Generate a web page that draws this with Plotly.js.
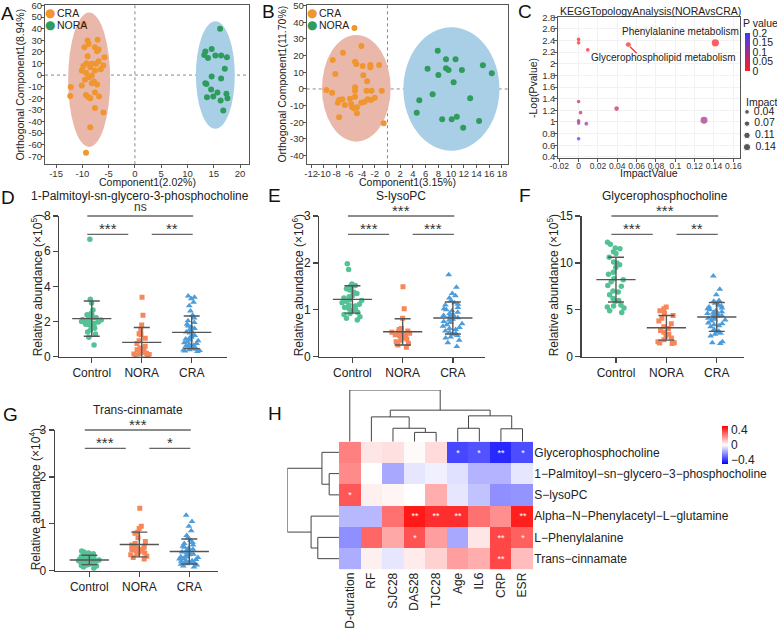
<!DOCTYPE html>
<html><head><meta charset="utf-8">
<script src="https://cdn.plot.ly/plotly-3.0.1.min.js"></script>
<style>html,body{margin:0;padding:0;background:#fff}</style>
</head><body><div id="chart" style="width:777px;height:628px"></div>
<script>
// ================= DATA =================
// Panel A: OPLS-DA scores (Component1 2.02%, Orthogonal 8.94%)
const aCRA_x = [-9.7,-9.0,-8.8,-7.1,-9.6,-7.6,-7.2,-6.9,-9.0,-5.8,-6.9,-9.2,-8.2,-9.8,-7.4,-6.0,-8.5,-10.1,-7.6,-9.3,-8.8,-9.5,-8.2,-10.1,-7.2,-12.2,-12.3,-9.3,-8.8,-8.5,-7.6,-6.8,-6.0,-7.6,-8.5,-9.3,-8.2,-6.5,-7.8];
const aCRA_y = [43.6,29.8,26.9,30.4,24.0,24.0,20.6,22.0,16.3,15.4,12.0,10.2,9.7,7.9,9.7,8.2,6.8,3.9,3.9,2.0,-1.8,-4.1,-7.0,-9.0,-8.2,-10.2,-18.0,-17.1,-19.1,-20.0,-15.1,-18.5,-32.3,-28.3,-45.0,-67.1,-0.4,5.0,-5.5];
const aNORA_x = [16.2,14.6,13.4,13.2,13.9,15.3,16.4,17.5,17.1,14.6,16.4,13.4,13.6,14.5,15.7,17.4,13.7,14.9,16.3,17.6,16.8];
const aNORA_y = [39.9,22.6,20.3,17.4,14.8,16.9,16.9,15.4,5.4,-1.3,-3.0,-7.0,-7.6,-12.5,-15.1,-16.2,-19.1,-18.5,-22.0,-20.0,-30.6];
const aEllCRA = [-8.7,-4,4,58];   // cx, cy, rx, ry
const aEllNORA = [15.3,0,3.7,46.4];
const aXTicks = [-15,-10,-5,0,5,10,15,20];
const aYTicks = [-70,-60,-50,-40,-30,-20,-10,0,10,20,30,40,50,60];
// Panel B: scores (Component1 3.15%, Orthogonal 11.70%)
const bCRA_x = [-5.2,-4.1,-7.0,-8.6,-5.1,-4.9,-3.9,-2.7,-2.7,-1.3,-8.2,-3.8,-3.2,-9.6,-8.7,-5.1,-5.1,-3.3,-2.5,-0.9,-7.6,-7.1,-7.8,-5.9,-5.1,-6.7,-5.7,-5.6,-5.3,-4.8,-4.1,-3.6,-3.1,-2.6,-2.0,-4.8,-7.6,-0.6];
const bCRA_y = [36.6,25.8,21.8,17.4,16.4,15.0,13.8,14.4,13.0,14.4,9.0,8.2,4.6,-0.6,-2.2,1.0,-1.0,-1.0,-1.0,-1.0,-6.6,-6.2,-8.2,-5.8,-4.6,-9.6,-9.0,-10.6,-11.6,-11.0,-8.2,-7.6,-6.2,-6.6,-5.2,-14.6,-17.0,-20.6];
const bNORA_x = [7.9,10.7,9.2,9.2,9.6,6.3,11.7,15.0,16.4,8.0,10.4,7.1,13.0,5.0,4.6,8.6,10.1,10.9,11.9,14.4];
const bNORA_y = [23.0,17.8,17.8,12.4,11.4,12.2,11.4,14.2,9.4,8.4,4.0,-3.2,-5.6,-6.8,-14.2,-18.2,-18.2,-16.6,-23.2,-19.2];
const bEllCRA = [-4.9,0.4,5.4,32];
const bEllNORA = [10.05,0,7.55,37];
const bXTicks = [-12,-10,-8,-6,-4,-2,0,2,4,6,8,10,12,14,16,18];
const bYTicks = [-40,-30,-20,-10,0,10,20,30,40,50];
// Panel C: KEGG topology
const cImpact = [0,0,0.0095,0.0514,0.1414,0,0.002,0.0393,0,0,0.008,0.1297,0];
const cLogP   = [2.42,2.36,2.24,2.33,2.36,1.35,1.16,1.23,1.02,0.98,0.97,1.03,0.71];
const cLegendImpact = [0.04,0.07,0.11,0.14];
const cPTicks = [0,0.05,0.1,0.15,0.2];
const cXTicks = [-0.02,0,0.02,0.04,0.06,0.08,0.1,0.12,0.14,0.16];
const cYTicks = [0.4,0.6,0.8,1,1.2,1.4,1.6,1.8,2,2.2,2.4,2.6,2.8];
// Panels D-G: relative abundance
const groups = ['Control','NORA','CRA'];
const dControl = [6.68,3.26,3.05,2.65,2.45,2.42,2.38,2.3,2.25,2.22,2.2,2.15,2.12,2.1,2.08,2.05,2.0,1.98,1.95,1.9,1.85,1.82,1.78,1.7,1.62,1.52,1.4,1.29,1.1,0.66];
const dNORA = [3.38,2.35,1.8,1.52,1.3,1.25,1.05,0.9,0.75,0.6,0.5,0.45,0.4,0.35,0.3,0.25,0.2,0.18,0.15,0.12,0.1,0.08];
const dCRA = [3.45,3.38,3.3,3.1,2.9,2.6,2.35,2.2,2.05,1.95,1.85,1.75,1.7,1.6,1.55,1.45,1.4,1.35,1.25,1.2,1.1,1.05,1.0,0.95,0.9,0.85,0.8,0.75,0.7,0.65,0.6,0.55,0.5,0.45,0.42,0.4,0.38,0.35,0.33,0.3];
const dSig = ['***','**','ns'];
const eControl = [1.98,1.86,1.55,1.52,1.5,1.5,1.45,1.42,1.38,1.35,1.3,1.28,1.25,1.22,1.2,1.18,1.15,1.12,1.1,1.08,1.05,1.02,1.0,0.98,0.95,0.92,0.9,0.85,0.82,0.78];
const eNORA = [1.49,1.02,0.82,0.6,0.58,0.56,0.55,0.53,0.52,0.5,0.5,0.48,0.47,0.45,0.43,0.4,0.38,0.35,0.32,0.28,0.25,0.2];
const eCRA = [1.75,1.48,1.35,1.3,1.25,1.2,1.15,1.12,1.1,1.05,1.02,1.0,0.98,0.95,0.92,0.9,0.88,0.86,0.85,0.83,0.8,0.78,0.75,0.73,0.7,0.68,0.65,0.62,0.6,0.58,0.55,0.52,0.5,0.48,0.45,0.42,0.4,0.35,0.3,0.22];
const eSig = ['***','***','***'];
const fControl = [12.2,12.0,11.6,11.5,11.2,11.0,10.6,10.1,10.0,9.8,9.5,9.0,8.8,8.3,8.2,8.0,7.6,7.5,7.0,6.9,6.6,6.2,6.0,5.9,5.5,5.4,5.3,5.2,4.9,4.7];
const fNORA = [5.3,5.1,4.9,4.6,4.4,4.1,3.8,3.5,3.2,3.0,2.8,2.6,2.4,2.2,2.0,1.8,1.6,1.5,1.45,1.4];
const fCRA = [8.6,7.2,6.6,6.0,5.9,5.7,5.5,5.4,5.3,5.2,5.1,5.0,4.9,4.8,4.7,4.6,4.5,4.4,4.3,4.2,4.1,4.0,3.9,3.8,3.6,3.5,3.3,3.2,4.45,4.65,2.6,2.5,2.4,2.2,2.9,2.7,3.4,1.6,1.5,1.4];
const fSig = ['***','**','***'];
const gControl = [0.42,0.4,0.38,0.36,0.35,0.33,0.31,0.3,0.29,0.28,0.27,0.26,0.25,0.24,0.23,0.22,0.21,0.2,0.19,0.18,0.17,0.16,0.15,0.14,0.13,0.12,0.11,0.1,0.08,0.05];
const gNORA = [1.33,0.95,0.9,0.82,0.8,0.7,0.62,0.58,0.55,0.5,0.48,0.46,0.45,0.43,0.42,0.4,0.38,0.36,0.34,0.31,0.28,0.25];
const gCRA = [1.18,1.05,0.95,0.85,0.75,0.7,0.65,0.6,0.58,0.55,0.52,0.5,0.48,0.46,0.44,0.42,0.4,0.38,0.36,0.35,0.34,0.32,0.3,0.29,0.28,0.26,0.25,0.24,0.22,0.21,0.2,0.19,0.18,0.17,0.16,0.15,0.14,0.12,0.1,0.08];
const gSig = ['***','*','***'];
// Panel H: correlation heatmap
const hCols = ['D-duration','RF','SJC28','DAS28','TJC28','Age','IL6','CRP','ESR'];
const hRows = ['Glycerophosphocholine','1\u2212Palmitoyl\u2212sn\u2212glycero\u22123\u2212phosphocholine','S\u2212lysoPC','Alpha\u2212N\u2212Phenylacetyl\u2212L\u2212glutamine','L\u2212Phenylalanine','Trans\u2212cinnamate'];
const hZ = [
  [0.25,0.05,0.06,0.01,0.07,-0.36,-0.34,-0.42,-0.35],
  [0.23,0.0,-0.17,-0.05,-0.03,-0.06,-0.15,-0.15,-0.05],
  [0.33,0.03,0.02,0.0,0.16,-0.05,-0.12,-0.22,-0.21],
  [-0.14,-0.14,0.28,0.45,0.41,0.41,0.28,0.22,0.44],
  [-0.22,0.30,0.17,0.34,0.19,-0.17,0.05,0.36,0.31],
  [-0.16,0.03,-0.05,0.04,0.09,0.19,0.16,0.36,0.13]];
const hStars = [
  ['','','','','','*','*','**','*'],
  ['','','','','','','','',''],
  ['*','','','','','','','',''],
  ['','','','**','**','**','','','**'],
  ['','','','*','','','','**','*'],
  ['','','','','','','','**','']];
const hColLinks = [[3,4,0.18],[2,9,0.26],[5,6,0.26],[7,8,0.25],[1,10,0.48],[11,12,0.50],[13,14,0.61],[0,15,1.0]];
const hRowLinks = [[1,2,0.19],[0,6,0.33],[4,5,0.41],[3,8,0.54],[7,9,1.0]];

// ================= HELPERS =================
const W=777,H=628;
const px=x=>x/W, py=y=>1-y/H;
const xd=(a,b)=>[a/W,b/W], yd=(t,b)=>[1-b/H,1-t/H];
const FONT='Liberation Sans, Arial, sans-serif';
const mean=a=>a.reduce((s,v)=>s+v,0)/a.length;
const sd=a=>{const m=mean(a);return Math.sqrt(a.reduce((s,v)=>s+(v-m)*(v-m),0)/(a.length-1));};
const lbl=v=>String(+v.toFixed(3));
const annotations=[], shapes=[], traces=[];
function ann(text,x,y,o){annotations.push(Object.assign({text:text,x:px(x),y:py(y),xref:'paper',yref:'paper',showarrow:false,xanchor:'center',yanchor:'middle',font:{size:11,color:'#222',family:FONT}},o||{}));}
function seg(x0,y0,x1,y1,color,w){shapes.push({type:'line',xref:'paper',yref:'paper',x0:px(x0),y0:py(y0),x1:px(x1),y1:py(y1),line:{color:color||'#666',width:w||1.2}});}
const f=(s,c)=>({size:s,color:c||'#222',family:FONT});

const layout={width:W,height:H,margin:{l:0,r:0,t:0,b:0},paper_bgcolor:'#fff',plot_bgcolor:'rgba(0,0,0,0)',
  font:{family:FONT,color:'#222'},showlegend:false,boxmode:'overlay'};

const frameAx={showline:true,mirror:true,linecolor:'#555',linewidth:1,ticks:'outside',ticklen:3,tickcolor:'#555',
  tickfont:{size:9.5,color:'#333'},zeroline:false,showgrid:false,tickangle:0,ticklabelstandoff:-3};
const tk=v=>({tickvals:v,ticktext:v.map(lbl)});

// ---------- Panel A & B ----------
const orange='#F0962F', green='#2E9C5C', pink='#E9B8AB', lblue='#A8CFE5';
function scorePanel(xa,ya,xdom,xr,xt_,yr,yt_,xt,yt,ytx,crx,cry,nx,ny,eC,eN){
  layout['xaxis'+xa]=Object.assign({},frameAx,tk(xt_),{domain:xd(...xdom),range:xr,anchor:'y'+ya});
  layout['yaxis'+ya]=Object.assign({},frameAx,tk(yt_),{domain:yd(5,164.3),range:yr,anchor:'x'+xa});
  ann(xt,(xdom[0]+xdom[1])/2,181.5,{font:f(10.5)});
  ann(yt,ytx,84.6,{textangle:-90,font:f(10.5)});
  const xr_='x'+xa, yr_='y'+ya;
  [[eC,pink],[eN,lblue]].forEach(([e,c])=>shapes.push({type:'circle',xref:xr_,yref:yr_,x0:e[0]-e[2],x1:e[0]+e[2],y0:e[1]-e[3],y1:e[1]+e[3],fillcolor:c,line:{width:0},layer:'below'}));
  shapes.push({type:'line',xref:xr_,yref:yr_+' domain',x0:0,x1:0,y0:0,y1:1,line:{color:'#888',width:1,dash:'dot'},layer:'below'});
  shapes.push({type:'line',xref:xr_+' domain',yref:yr_,x0:0,x1:1,y0:0,y1:0,line:{color:'#888',width:1,dash:'dot'},layer:'below'});
  traces.push({type:'scatter',mode:'markers',x:crx,y:cry,xaxis:xr_,yaxis:yr_,marker:{color:orange,size:6},hoverinfo:'skip'});
  traces.push({type:'scatter',mode:'markers',x:nx,y:ny,xaxis:xr_,yaxis:yr_,marker:{color:green,size:6},hoverinfo:'skip'});
}
scorePanel('','',[45,249],[-17.1,21.7],aXTicks,[-77,60.5],aYTicks,'Component1(2.02%)','Orthogonal Component1(8.94%)',20,aCRA_x,aCRA_y,aNORA_x,aNORA_y,aEllCRA,aEllNORA);
scorePanel('2','2',[306.7,507.7],[-12.7,18.9],bXTicks,[-45.2,50.4],bYTicks,'Component1(3.15%)','Orthogonal Component1(11.70%)',282,bCRA_x,bCRA_y,bNORA_x,bNORA_y,bEllCRA,bEllNORA);
// legends
[[50,55],[312.3,317]].forEach(([dx,tx])=>{
  ann('●',dx,13.3,{font:{size:12,color:orange,family:'DejaVu Sans'}});
  ann('CRA',tx,13.3,{xanchor:'left',font:f(10.5)});
  ann('●',dx,25,{font:{size:12,color:green,family:'DejaVu Sans'}});
  ann('NORA',tx,25,{xanchor:'left',font:f(10.5)});
});

// ---------- Panel C ----------
const impactSize=v=>3.6+v*26;
layout.xaxis3=Object.assign({},frameAx,tk(cXTicks),{domain:xd(558.3,740),range:[-0.021,0.1669],anchor:'y3',showgrid:true,gridcolor:'#F2F2F2',tickfont:{size:8.5,color:'#333'}});
layout.yaxis3=Object.assign({},frameAx,tk(cYTicks),{domain:yd(16.7,158),range:[0.38,2.81],anchor:'x3',showgrid:true,gridcolor:'#F2F2F2'});
ann('ImpactValue',649,173,{font:f(10.5)});
ann('-Log(Pvalue)',533,88,{textangle:-90,font:f(10.5)});
traces.push({type:'scatter',mode:'markers',x:cImpact,y:cLogP,xaxis:'x3',yaxis:'y3',hoverinfo:'skip',
  marker:{size:cImpact.map(impactSize),color:cLogP.map(v=>Math.pow(10,-v)),cmin:0,cmax:0.2,
    colorscale:[[0,'#FF1E1E'],[1,'#3C3CFF']],line:{width:0},
    colorbar:{x:px(744.5),xanchor:'left',xpad:0,ypad:0,y:py(52),yanchor:'middle',len:38/H,thickness:5,outlinewidth:0,
      tickvals:cPTicks,ticks:'',tickfont:{size:10.5,color:'#222'}}}});
ann('KEGGTopologyAnalysis(NORAvsCRA)',650,11.5,{font:f(10.5)});
ann('P value',760,23.5,{font:f(10.5)});
ann('Impact',762,102,{font:f(10.5)});
ann('Phenylalanine metabolism',680,32,{font:f(10)});
ann('Glycerophospholipid metabolism',663,57,{font:f(10)});
seg(630,46.7,636.7,53.3,'#FF3030',1.3);
// impact size legend on hidden axes
layout.xaxis12={domain:xd(744,777),range:[-1,10],visible:false,anchor:'y12'};
layout.yaxis12={domain:yd(106,153),range:[3.5,-0.5],visible:false,anchor:'x12'};
traces.push({type:'scatter',mode:'markers+text',x:cLegendImpact.map(()=>0),y:cLegendImpact.map((v,i)=>i),xaxis:'x12',yaxis:'y12',
  marker:{size:cLegendImpact.map(impactSize),color:'#111'},text:cLegendImpact.map(v=>' '+v),textposition:'middle right',
  textfont:{size:10.5,color:'#222'},hoverinfo:'skip',cliponaxis:false});

// ---------- Panels D-G ----------
const gColors=['#55C295','#F7875A','#4D9DDA'], gSyms=['circle','square','triangle-up'], gSizes=[5.5,5,6];
const panels=[
 {k:'4',data:[dControl,dNORA,dCRA],xDom:[59.3,226.7],yDom:[216,356.7],xr:[-0.65,2.7],yr:[0,8],dt:2,exp:5,yt:37,title:'1-Palmitoyl-sn-glycero-3-phosphocholine',sig:dSig},
 {k:'5',data:[eControl,eNORA,eCRA],xDom:[319.3,485],yDom:[216,356.7],xr:[-0.66,2.64],yr:[0,3],dt:1,exp:6,yt:298,title:'S-lysoPC',sig:eSig},
 {k:'6',data:[fControl,fNORA,fCRA],xDom:[581.7,744],yDom:[216,356.7],xr:[-0.68,2.54],yr:[0,15],dt:5,exp:5,yt:553,title:'Glycerophosphocholine',sig:fSig},
 {k:'7',data:[gControl,gNORA,gCRA],xDom:[55,218.3],yDom:[430,570.7],xr:[-0.686,2.58],yr:[0,3],dt:1,exp:4,yt:35,title:'Trans-cinnamate',sig:gSig}];
panels.forEach(p=>{
  const axc={showline:true,linecolor:'#444',linewidth:1.3,ticks:'outside',ticklen:5,tickwidth:1.3,tickcolor:'#444',
    tickfont:{size:12,color:'#222'},showgrid:false,zeroline:false};
  layout['xaxis'+p.k]=Object.assign({},axc,{domain:xd(...p.xDom),range:p.xr,tickvals:[0,1,2],ticktext:groups,anchor:'y'+p.k,tickangle:0});
  layout['yaxis'+p.k]=Object.assign({},axc,{domain:yd(...p.yDom),range:p.yr,dtick:p.dt,tick0:0,anchor:'x'+p.k});
  ann('Relative abundance (×10<sup>'+p.exp+'</sup>)',p.yt,(p.yDom[0]+p.yDom[1])/2-1,{textangle:-90,font:f(12)});
  p.data.forEach((arr,i)=>{
    traces.push({type:'box',x0:i,y:arr,xaxis:'x'+p.k,yaxis:'y'+p.k,boxpoints:'all',jitter:0.9,pointpos:0,
      fillcolor:'rgba(0,0,0,0)',line:{width:0,color:'rgba(0,0,0,0)'},whiskerwidth:0,hoverinfo:'skip',
      marker:{color:gColors[i],symbol:gSyms[i],size:gSizes[i],line:{width:0}}});
    traces.push({type:'scatter',mode:'markers',x:[i],y:[mean(arr)],xaxis:'x'+p.k,yaxis:'y'+p.k,hoverinfo:'skip',cliponaxis:false,
      marker:{symbol:'line-ew',size:28,color:'#555',line:{width:1.4,color:'#555'}},
      error_y:{type:'data',array:[sd(arr)],visible:true,color:'#555',thickness:1.4,width:8}});
  });
  const sp=(p.xDom[1]-p.xDom[0])/(p.xr[1]-p.xr[0]);
  const cx=v=>p.xDom[0]+(v-p.xr[0])*sp;
  const top=p.yDom[0], low=p.yDom[0]+18.3;
  const br=[[-0.09,0.73,low],[1.2,2.02,low],[-0.09,2.03,top]];
  br.forEach(([a,b,y],j)=>{
    seg(cx(a),y,cx(b),y,'#666',1.3);
    const s=p.sig[j], isStar=s.indexOf('*')>=0;
    ann(s,(cx(a)+cx(b))/2,y-8.6+(isStar?3:0),{font:f(isStar?15:12,'#333')});
  });
  ann(p.title,(cx(-0.09)+cx(2.03))/2,top-20,{font:f(12)});
});

// ---------- Panel H ----------
layout.xaxis9={domain:xd(339,533.3),anchor:'y9',tickangle:-90,ticks:'',showline:false,showgrid:false,zeroline:false,tickfont:{size:12,color:'#222'}};
layout.yaxis9={domain:yd(441.7,569.3),anchor:'x9',autorange:'reversed',side:'right',ticks:'',showline:false,showgrid:false,zeroline:false,tickfont:{size:12,color:'#222'}};
traces.push({type:'heatmap',z:hZ,x:hCols,y:hRows,xaxis:'x9',yaxis:'y9',zmin:-0.5,zmax:0.5,hoverinfo:'skip',
  colorscale:[[0,'#0000FF'],[0.5,'#FFFFFF'],[1,'#FF0000']],text:hStars,texttemplate:'%{text}',textfont:{color:'#FFFFFF',size:9},
  colorbar:{x:px(721.7),xanchor:'left',xpad:0,ypad:0,y:py(444.7),yanchor:'middle',len:37.5/H,thickness:6,outlinewidth:0,
    tickvals:[-0.4,0,0.4],ticks:'',tickfont:{size:12,color:'#222'}}});
function dendro(n,links){
  const pos=[],ht=[],xs=[],ys=[];
  for(let i=0;i<n;i++){pos[i]=i;ht[i]=0;}
  links.forEach(([a,b,h],k)=>{xs.push(pos[a],pos[a],pos[b],pos[b],null);ys.push(ht[a],h,h,ht[b],null);pos[n+k]=(pos[a]+pos[b])/2;ht[n+k]=h;});
  return {p:xs,h:ys};
}
const cd=dendro(hCols.length,hColLinks), rd=dendro(hRows.length,hRowLinks);
layout.xaxis10={domain:xd(339,533.3),range:[-0.5,8.5],visible:false,anchor:'y10'};
layout.yaxis10={domain:yd(390,441.7),range:[0,1],visible:false,anchor:'x10'};
layout.xaxis11={domain:xd(287.3,339),range:[1,0],visible:false,anchor:'y11'};
layout.yaxis11={domain:yd(441.7,569.3),range:[5.5,-0.5],visible:false,anchor:'x11'};
traces.push({type:'scatter',mode:'lines',x:cd.p,y:cd.h,xaxis:'x10',yaxis:'y10',line:{color:'#444',width:1},hoverinfo:'skip',cliponaxis:false,connectgaps:false});
traces.push({type:'scatter',mode:'lines',x:rd.h,y:rd.p,xaxis:'x11',yaxis:'y11',line:{color:'#444',width:1},hoverinfo:'skip',cliponaxis:false,connectgaps:false});

// ---------- panel letters ----------
[['A',7,13],['B',268,11],['C',525,12],['D',8,197],['E',274,196],['F',525,196],['G',10,414],['H',275,413]].forEach(([t,x,y])=>
  ann(t,x,y,{font:f(19,'#111')}));

layout.annotations=annotations; layout.shapes=shapes;
Plotly.newPlot('chart',traces,layout,{displayModeBar:false,staticPlot:true});
</script></body></html>
